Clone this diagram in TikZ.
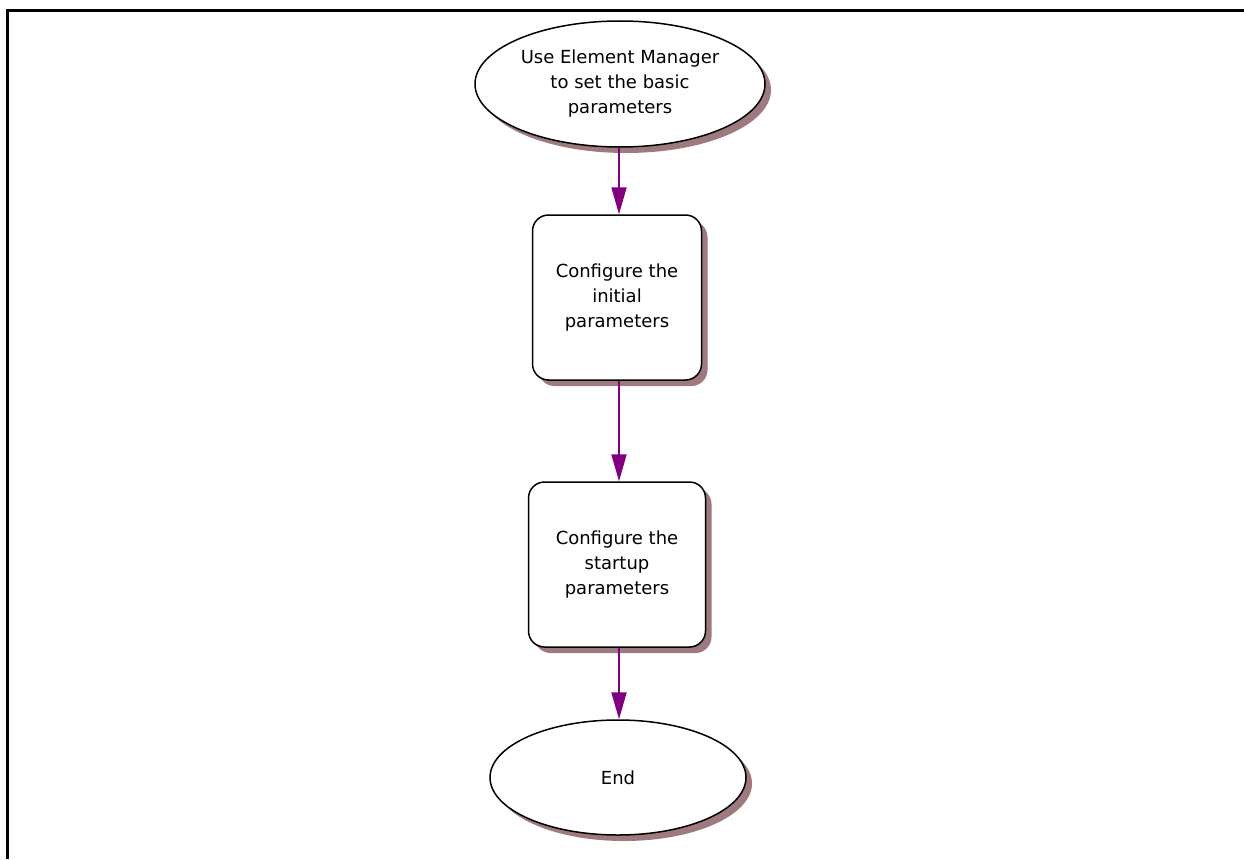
\documentclass[tikz,border=0pt]{standalone}
\usepackage{fontspec}
\setmainfont{DejaVu Sans}
\usetikzlibrary{shapes.geometric,arrows.meta,shadows}
\definecolor{shadowc}{RGB}{158,122,126}
\definecolor{arrowc}{RGB}{128,0,128}
\begin{document}
\begin{tikzpicture}[x=1pt,y=-1pt,
  every node/.style={font=\fontsize{18pt}{25pt}\selectfont, align=center, text=black},
  shad/.style={drop shadow={shadow xshift=6pt, shadow yshift=-6pt, fill=shadowc, opacity=1}},
  oval/.style={ellipse, draw=black, line width=1.5pt, fill=white, inner sep=0pt, shad},
  stepbox/.style={rectangle, rounded corners=16pt, draw=black, line width=1.5pt, fill=white, inner sep=0pt, shad},
  arr/.style={draw=arrowc, line width=2pt, -{Triangle[length=27pt,width=15pt]}}
]
\useasboundingbox (0,0) rectangle (1244,859);
\draw[line width=3pt] (7.5,859) -- (7.5,11) -- (1244,11);

\node[oval, minimum width=290pt, minimum height=126pt] (e1) at (620,84)
  {Use Element Manager\\to set the basic\\parameters};
\node[stepbox, minimum width=169pt, minimum height=165pt] (b1) at (617,297.5)
  {Configure the\\initial\\parameters};
\node[stepbox, minimum width=177pt, minimum height=165pt] (b2) at (617,564.5)
  {Configure the\\startup\\parameters};
\node[oval, minimum width=256pt, minimum height=115pt] (e2) at (618,777.5)
  {End};

\draw[arr] (e1.south -| 619,0) -- (b1.north -| 619,0);
\draw[arr] (b1.south -| 619,0) -- (b2.north -| 619,0);
\draw[arr] (b2.south -| 619,0) -- (e2.north -| 619,0);
\end{tikzpicture}
\end{document}
